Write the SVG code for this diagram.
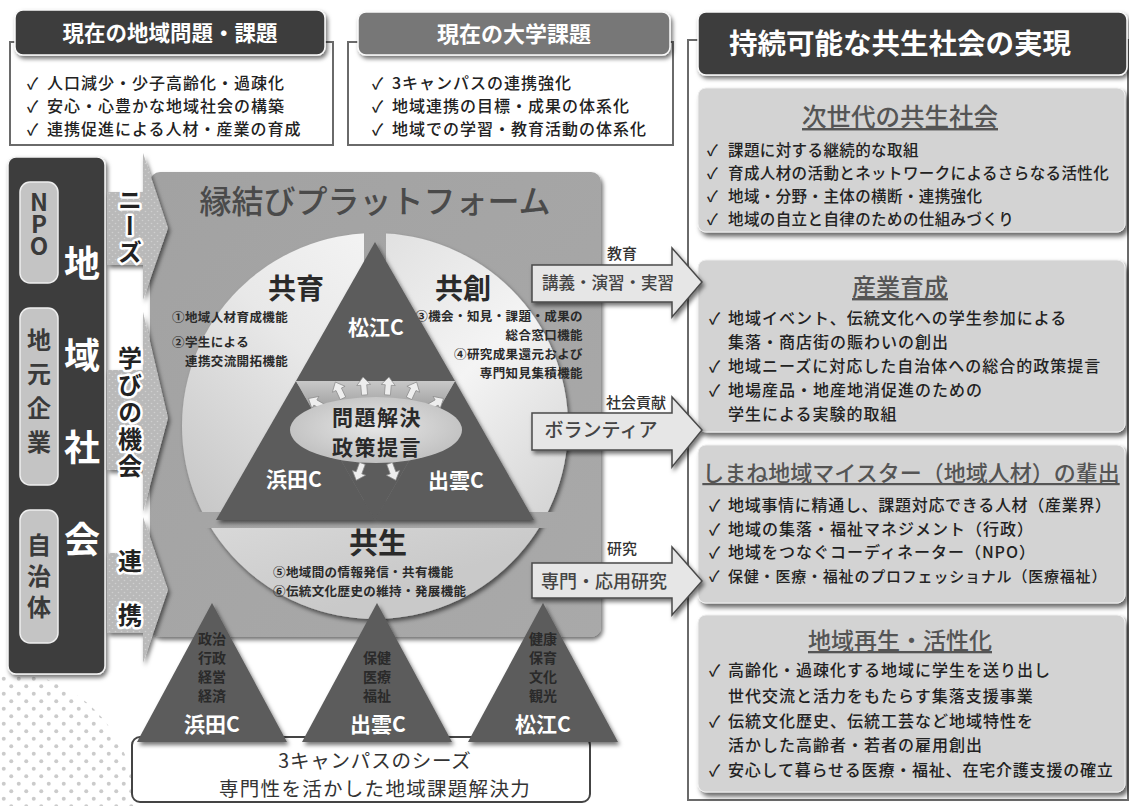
<svg xmlns="http://www.w3.org/2000/svg" width="1129" height="806" viewBox="0 0 1129 806">
<defs>
<style>
text{font-family:"Noto Sans CJK JP","Noto Sans",sans-serif;}
.frame{fill:none;stroke:#6a6a6a;stroke-width:2}
.hdr{fill:#3c3c3c;stroke:#fafafa;stroke-width:1.5}
.hdrt{fill:#fff;font-weight:700;text-anchor:middle}
.it{fill:#222;font-size:16px;font-weight:500;letter-spacing:1px}
.it16{fill:#222;font-size:15.5px;font-weight:500;letter-spacing:0.4px}
.sub{fill:#d3d3d3;stroke:#eee;stroke-width:1}
.subt{fill:#555;font-weight:500;text-anchor:middle;text-decoration:underline}
.tri{fill:#5b5b5b}
.wl{fill:#fff;font-weight:700;text-anchor:middle}
.dk{fill:#2a2a2a;font-weight:700;text-anchor:middle}
.fn{fill:#2a2a2a;font-size:12.5px;font-weight:700;letter-spacing:0.4px}
.vt{writing-mode:vertical-rl}
.lab{fill:#222;font-size:24px;font-weight:700;stroke:#fff;stroke-width:5;paint-order:stroke;stroke-linejoin:round}
.pill{fill:#c4c4c4;stroke:#eee;stroke-width:1.5}
.pillt{fill:#3a3a3a;font-size:24px;font-weight:700}
.ra{fill:#e6e6e6;stroke:#4a4a4a;stroke-width:1.5}
.rat{fill:#444;font-weight:500;text-anchor:middle}
.ral{fill:#333;font-size:15px;font-weight:500;text-anchor:middle}
.la{fill:#b9b9b9}
.burst{fill:#eeeeee;stroke:#8a8a8a;stroke-width:0.7}
.st{fill:#2a2a2a;font-weight:700;text-anchor:middle;font-size:14px}
</style>
<filter id="sh" x="-10%" y="-10%" width="130%" height="140%"><feDropShadow dx="2" dy="3" stdDeviation="2" flood-color="#000" flood-opacity="0.55"/></filter>
<filter id="sh2" x="-10%" y="-10%" width="130%" height="140%"><feDropShadow dx="3" dy="4" stdDeviation="2.5" flood-color="#000" flood-opacity="0.6"/></filter>
<pattern id="dots" width="15" height="15" patternUnits="userSpaceOnUse"><circle cx="3.75" cy="3.75" r="2" fill="#cbcbcb"/><circle cx="11.25" cy="11.25" r="2" fill="#cbcbcb"/></pattern>
<pattern id="dots2" width="6" height="6" patternUnits="userSpaceOnUse"><circle cx="1.5" cy="1.5" r="0.8" fill="#cfcfcf"/><circle cx="4.5" cy="4.5" r="0.8" fill="#cfcfcf"/></pattern>
<linearGradient id="gKyoiku" x1="1" y1="0" x2="0" y2="1"><stop offset="0" stop-color="#ffffff"/><stop offset="0.5" stop-color="#e8e8e8"/><stop offset="1" stop-color="#b8b8b8"/></linearGradient>
<linearGradient id="gKyoso" x1="0" y1="0" x2="1" y2="1"><stop offset="0" stop-color="#cfcfcf"/><stop offset="0.55" stop-color="#f4f4f4"/><stop offset="1" stop-color="#c4c4c4"/></linearGradient>
<linearGradient id="gKyosei" x1="0" y1="0" x2="0.3" y2="1"><stop offset="0" stop-color="#ffffff"/><stop offset="1" stop-color="#c9c9c9"/></linearGradient>
<linearGradient id="gCen" x1="0" y1="0" x2="0" y2="1"><stop offset="0" stop-color="#c8c8c8"/><stop offset="0.3" stop-color="#8a8a8a"/><stop offset="0.6" stop-color="#5b5b5b"/></linearGradient>
<radialGradient id="gEll" cx="0.5" cy="0.45" r="0.6"><stop offset="0" stop-color="#e6e6e6"/><stop offset="1" stop-color="#bdbdbd"/></radialGradient>
<linearGradient id="gPlat" x1="0" y1="0" x2="1" y2="1"><stop offset="0" stop-color="#a2a2a2"/><stop offset="1" stop-color="#a9a9a9"/></linearGradient>
<clipPath id="cDots"><circle cx="0" cy="806" r="135"/></clipPath>
<clipPath id="cLeft"><rect x="150" y="200" width="214" height="312"/></clipPath>
<clipPath id="cRight"><rect x="386" y="200" width="214" height="312"/></clipPath>
<clipPath id="cBot"><rect x="150" y="528" width="450" height="120"/></clipPath>
<path id="ar" d="M0,-11 L7,-3 L3,-3 L3,7 L-3,7 L-3,-3 L-7,-3 Z"/>
</defs>

<rect width="1129" height="806" fill="#fff"/>
<g id="dot-background"><rect x="0" y="660" width="140" height="146" fill="url(#dots)" clip-path="url(#cDots)"/></g>

<g id="regional-issues">
<path class="frame" d="M15 42 H10 V145 H333 V42 H325"/>
<rect class="hdr" x="15" y="10" width="310" height="45" rx="8" filter="url(#sh)"/>
<text class="hdrt" x="170" y="41" font-size="21.5">現在の地域問題・課題</text>
<text class="it" y="89"><tspan x="27">✓</tspan><tspan x="47">人口減少・少子高齢化・過疎化</tspan></text>
<text class="it" y="112"><tspan x="27">✓</tspan><tspan x="47">安心・心豊かな地域社会の構築</tspan></text>
<text class="it" y="135"><tspan x="27">✓</tspan><tspan x="47">連携促進による人材・産業の育成</tspan></text>
</g>

<g id="university-issues">
<path class="frame" d="M358 42 H348 V145 H673 V42 H670"/>
<rect class="hdr" x="358" y="12" width="312" height="43" rx="8" style="fill:#777" filter="url(#sh)"/>
<text class="hdrt" x="514" y="42" font-size="22">現在の大学課題</text>
<text class="it" y="89"><tspan x="372">✓</tspan><tspan x="392">3キャンパスの連携強化</tspan></text>
<text class="it" y="112"><tspan x="372">✓</tspan><tspan x="392">地域連携の目標・成果の体系化</tspan></text>
<text class="it" y="135"><tspan x="372">✓</tspan><tspan x="392">地域での学習・教育活動の体系化</tspan></text>
</g>

<g id="sustainable-society">
<path class="frame" d="M698 40 H688 V800 H1128 V40 H1125"/>
<rect class="hdr" x="698" y="12" width="429" height="63" rx="8" filter="url(#sh)"/>
<text class="hdrt" x="900" y="53.5" font-size="28.5">持続可能な共生社会の実現</text>
</g>

<g id="next-generation">
<rect class="sub" x="698" y="88" width="427" height="144" rx="8" filter="url(#sh2)"/>
<text class="subt" x="900" y="126" font-size="24.5">次世代の共生社会</text>
<text class="it16" y="156"><tspan x="707">✓</tspan><tspan x="728">課題に対する継続的な取組</tspan></text>
<text class="it16" y="179"><tspan x="707">✓</tspan><tspan x="728">育成人材の活動とネットワークによるさらなる活性化</tspan></text>
<text class="it16" y="202"><tspan x="707">✓</tspan><tspan x="728">地域・分野・主体の横断・連携強化</tspan></text>
<text class="it16" y="225"><tspan x="707">✓</tspan><tspan x="728">地域の自立と自律のための仕組みづくり</tspan></text>
</g>

<g id="industry">
<rect class="sub" x="698" y="260" width="427" height="172" rx="8" filter="url(#sh2)"/>
<text class="subt" x="900" y="296" font-size="24">産業育成</text>
<text class="it" y="324"><tspan x="709">✓</tspan><tspan x="728">地域イベント、伝統文化への学生参加による</tspan></text>
<text class="it" x="728" y="348">集落・商店街の賑わいの創出</text>
<text class="it" y="372"><tspan x="709">✓</tspan><tspan x="728">地域ニーズに対応した自治体への総合的政策提言</tspan></text>
<text class="it" y="396"><tspan x="709">✓</tspan><tspan x="728">地場産品・地産地消促進のための</tspan></text>
<text class="it" x="728" y="420">学生による実験的取組</text>
</g>

<g id="meister">
<rect class="sub" x="698" y="445" width="427" height="158" rx="8" filter="url(#sh2)"/>
<text class="subt" x="911" y="481" font-size="22">しまね地域マイスター（地域人材）の輩出</text>
<text class="it" y="511" style="letter-spacing:0.7px"><tspan x="709">✓</tspan><tspan x="728">地域事情に精通し、課題対応できる人材（産業界）</tspan></text>
<text class="it" y="534.5"><tspan x="709">✓</tspan><tspan x="728">地域の集落・福祉マネジメント（行政）</tspan></text>
<text class="it" y="558"><tspan x="709">✓</tspan><tspan x="728">地域をつなぐコーディネーター（NPO）</tspan></text>
<text class="it" y="581.5" style="font-size:15px;letter-spacing:0.8px"><tspan x="709">✓</tspan><tspan x="728">保健・医療・福祉のプロフェッショナル（医療福祉）</tspan></text>
</g>

<g id="regeneration">
<rect class="sub" x="698" y="615" width="427" height="177" rx="8" filter="url(#sh2)"/>
<text class="subt" x="900" y="649" font-size="23">地域再生・活性化</text>
<text class="it" y="676"><tspan x="709">✓</tspan><tspan x="728">高齢化・過疎化する地域に学生を送り出し</tspan></text>
<text class="it" x="728" y="702">世代交流と活力をもたらす集落支援事業</text>
<text class="it" y="727"><tspan x="709">✓</tspan><tspan x="728">伝統文化歴史、伝統工芸など地域特性を</tspan></text>
<text class="it" x="728" y="751">活かした高齢者・若者の雇用創出</text>
<text class="it" y="776" style="letter-spacing:0.8px"><tspan x="709">✓</tspan><tspan x="728">安心して暮らせる医療・福祉、在宅介護支援の確立</tspan></text>
</g>

<g id="platform">
<rect x="150" y="172" width="451" height="465" rx="10" fill="url(#gPlat)" filter="url(#sh)"/>
<text x="375" y="213" font-size="32" fill="#4a4a4a" font-weight="500" text-anchor="middle">縁結びプラットフォーム</text>
</g>

<g id="kyoiku">
<circle cx="375" cy="426" r="193" fill="url(#gKyoiku)" clip-path="url(#cLeft)" filter="url(#sh)"/>
<text class="dk" x="296" y="299" font-size="28">共育</text>
<text class="fn" x="172" y="322">①地域人材育成機能</text>
<text class="fn" x="172" y="347">②学生による</text>
<text class="fn" x="185" y="366">連携交流開拓機能</text>
</g>

<g id="kyoso">
<circle cx="375" cy="426" r="193" fill="url(#gKyoso)" clip-path="url(#cRight)" filter="url(#sh)"/>
<text class="dk" x="463" y="299" font-size="28">共創</text>
<text class="fn" x="583" y="321" text-anchor="end">③機会・知見・課題・成果の</text>
<text class="fn" x="583" y="340" text-anchor="end">総合窓口機能</text>
<text class="fn" x="583" y="359" text-anchor="end">④研究成果還元および</text>
<text class="fn" x="583" y="378" text-anchor="end">専門知見集積機能</text>
</g>

<g id="kyosei">
<circle cx="375" cy="426" r="193" fill="url(#gKyosei)" clip-path="url(#cBot)" filter="url(#sh)"/>
<text class="dk" x="378" y="554" font-size="29">共生</text>
<text class="fn" x="273" y="577">⑤地域間の情報発信・共有機能</text>
<text class="fn" x="273" y="596">⑥伝統文化歴史の維持・発展機能</text>
</g>

<g id="campus-triangle" filter="url(#sh)">
<polygon class="tri" points="375,242 296,381 455,381"/>
<polygon class="tri" points="296,381 216,520 375,520"/>
<polygon class="tri" points="455,381 375,520 534,520"/>
<polygon points="296,381 455,381 375,520" fill="url(#gCen)"/>
</g>
<g id="matsue-c"><text class="wl" x="376" y="335" font-size="21">松江C</text></g>
<g id="hamada-c"><text class="wl" x="294" y="487" font-size="21">浜田C</text></g>
<g id="izumo-c"><text class="wl" x="456" y="488" font-size="21">出雲C</text></g>

<g id="problem-solving">
<use href="#ar" class="burst" transform="translate(318,404) rotate(-60)"/>
<use href="#ar" class="burst" transform="translate(340,392) rotate(-25)"/>
<use href="#ar" class="burst" transform="translate(364,388) rotate(-5)"/>
<use href="#ar" class="burst" transform="translate(388,388) rotate(5)"/>
<use href="#ar" class="burst" transform="translate(412,392) rotate(25)"/>
<use href="#ar" class="burst" transform="translate(434,404) rotate(60)"/>
<use href="#ar" class="burst" transform="translate(360,470) rotate(200)"/>
<use href="#ar" class="burst" transform="translate(392,470) rotate(160)"/>
<ellipse cx="376" cy="430" rx="86" ry="33" fill="url(#gEll)"/>
<text class="dk" x="377" y="425" font-size="21" fill="#333" style="letter-spacing:1.5px">問題解決</text>
<text class="dk" x="377" y="455" font-size="21" fill="#333" style="letter-spacing:1.5px">政策提言</text>
</g>

<g id="seeds-box">
<rect x="132" y="737" width="458" height="65" rx="8" fill="#fff" stroke="#444" stroke-width="2"/>
<text x="375" y="768" font-size="19.5" fill="#333" text-anchor="middle" style="letter-spacing:0.8px">3キャンパスのシーズ</text>
<text x="375" y="796" font-size="19.5" fill="#333" text-anchor="middle" style="letter-spacing:1.3px">専門性を活かした地域課題解決力</text>
</g>

<g id="seed-hamada">
<polygon class="tri" points="212,603 137,742 287,742" filter="url(#sh)"/>
<text class="st" x="212" y="644">政治</text>
<text class="st" x="212" y="663">行政</text>
<text class="st" x="212" y="682">経営</text>
<text class="st" x="212" y="701">経済</text>
<text class="wl" font-size="21" x="212" y="732">浜田C</text>
</g>
<g id="seed-izumo">
<polygon class="tri" points="377,603 302,742 452,742" filter="url(#sh)"/>
<text class="st" x="377" y="663">保健</text>
<text class="st" x="377" y="682">医療</text>
<text class="st" x="377" y="701">福祉</text>
<text class="wl" font-size="21" x="378" y="732">出雲C</text>
</g>
<g id="seed-matsue">
<polygon class="tri" points="543,603 468,742 618,742" filter="url(#sh)"/>
<text class="st" x="543" y="644">健康</text>
<text class="st" x="543" y="663">保育</text>
<text class="st" x="543" y="682">文化</text>
<text class="st" x="543" y="701">観光</text>
<text class="wl" font-size="21" x="543" y="732">松江C</text>
</g>

<g id="regional-community">
<rect x="8" y="157" width="97" height="517" rx="8" fill="#3c3c3c" stroke="#f4f4f4" stroke-width="1.5" filter="url(#sh)"/>
<rect class="pill" x="20" y="182" width="38" height="101" rx="10"/>
<rect class="pill" x="20" y="308" width="38" height="177" rx="10"/>
<rect class="pill" x="20" y="510" width="38" height="133" rx="10"/>
<text class="pillt vt" x="39" y="190" font-size="30" style="text-orientation:upright;letter-spacing:-2px">NPO</text>
<text class="pillt vt" x="39" y="328" style="letter-spacing:10px">地元企業</text>
<text class="pillt vt" x="39" y="533" style="letter-spacing:7px">自治体</text>
<text class="vt" x="82" y="245" font-size="36" font-weight="700" fill="#fff" style="letter-spacing:56px">地域社会</text>
</g>

<g id="connectors">
<g filter="url(#sh)">
<path class="la" d="M107,192 H143 V153 L168,228 L143,300 V265 H107 Z"/>
<path class="la" d="M107,370 H143 V312 L168,418 L143,512 V470 H107 Z"/>
<path class="la" d="M107,553 H143 V517 L168,590 L143,663 V633 H107 Z"/>
</g>
<path d="M107,192 H143 V153 L168,228 L143,300 V265 H107 Z" fill="url(#dots2)"/>
<path d="M107,370 H143 V312 L168,418 L143,512 V470 H107 Z" fill="url(#dots2)"/>
<path d="M107,553 H143 V517 L168,590 L143,663 V633 H107 Z" fill="url(#dots2)"/>
<text class="lab vt" x="130" y="188" style="letter-spacing:2px">ニーズ</text>
<text class="lab vt" x="130" y="346" style="letter-spacing:3px">学びの機会</text>
<text class="lab vt" x="130" y="549" style="letter-spacing:30px">連携</text>

<g filter="url(#sh)">
<path class="ra" d="M532,265 H672 V248 L702,282 L672,317 V302 H532 Z"/>
<path class="ra" d="M532,413 H672 V397 L702,430 L672,467 V450 H532 Z"/>
<path class="ra" d="M532,563 H672 V547 L702,581 L672,615 V598 H532 Z"/>
</g>
<text class="rat" x="608" y="289" font-size="16.5">講義・演習・実習</text>
<text class="rat" x="601" y="437" font-size="19">ボランティア</text>
<text class="rat" x="604" y="588" font-size="18">専門・応用研究</text>
<text class="ral" x="622" y="259">教育</text>
<text class="ral" x="636" y="408">社会貢献</text>
<text class="ral" x="622" y="554">研究</text>
</g>
</svg>
